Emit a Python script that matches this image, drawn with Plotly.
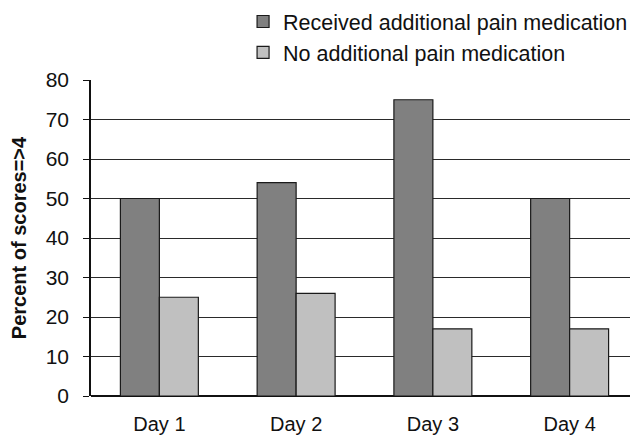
import plotly.graph_objects as go

days = ["Day 1", "Day 2", "Day 3", "Day 4"]
received = [50, 54, 75, 50]
no_additional = [25, 26, 17, 17]
series_names = ["Received additional pain medication", "No additional pain medication"]
y_ticks = [0, 10, 20, 30, 40, 50, 60, 70, 80]

font_family = "Liberation Sans, Arial, sans-serif"

fig = go.Figure()
fig.add_trace(go.Bar(x=days, y=received, name=series_names[0],
                     marker=dict(color="#808080", line=dict(color="#1a1a1a", width=1.2))))
fig.add_trace(go.Bar(x=days, y=no_additional, name=series_names[1],
                     marker=dict(color="#c0c0c0", line=dict(color="#1a1a1a", width=1.2))))

# page body has an 8px margin, so the figure is sized to end at the window edge
fig.update_layout(
    width=630, height=429,
    margin=dict(l=83, r=0, t=72, b=41, autoexpand=False),
    paper_bgcolor="white", plot_bgcolor="white",
    font=dict(family=font_family, color="#111", size=20),
    barmode="group", bargap=0.43, bargroupgap=0.0,
    showlegend=True,
    legend=dict(x=0.278, xanchor="left", y=1.25, yanchor="top",
                font=dict(size=21.5), bgcolor="rgba(0,0,0,0)", tracegroupgap=0),
    xaxis=dict(range=[-0.5, 3.5], showgrid=False, showline=False, ticks="",
               tickfont=dict(size=20), ticklabelstandoff=14),
    yaxis=dict(range=[0, 80], tickvals=y_ticks, showgrid=True, gridcolor="#2a2a2a", gridwidth=1.3,
               showline=True, linecolor="#111", linewidth=1.5, ticks="outside", ticklen=6,
               tickcolor="#111", tickwidth=1.3, tickfont=dict(size=21), ticklabelstandoff=10,
               zeroline=True, zerolinecolor="#111", zerolinewidth=1.5,
               title=dict(text="<b>Percent of scores=>4</b>", font=dict(size=20), standoff=18)),
)

fig.write_html("out.html")
